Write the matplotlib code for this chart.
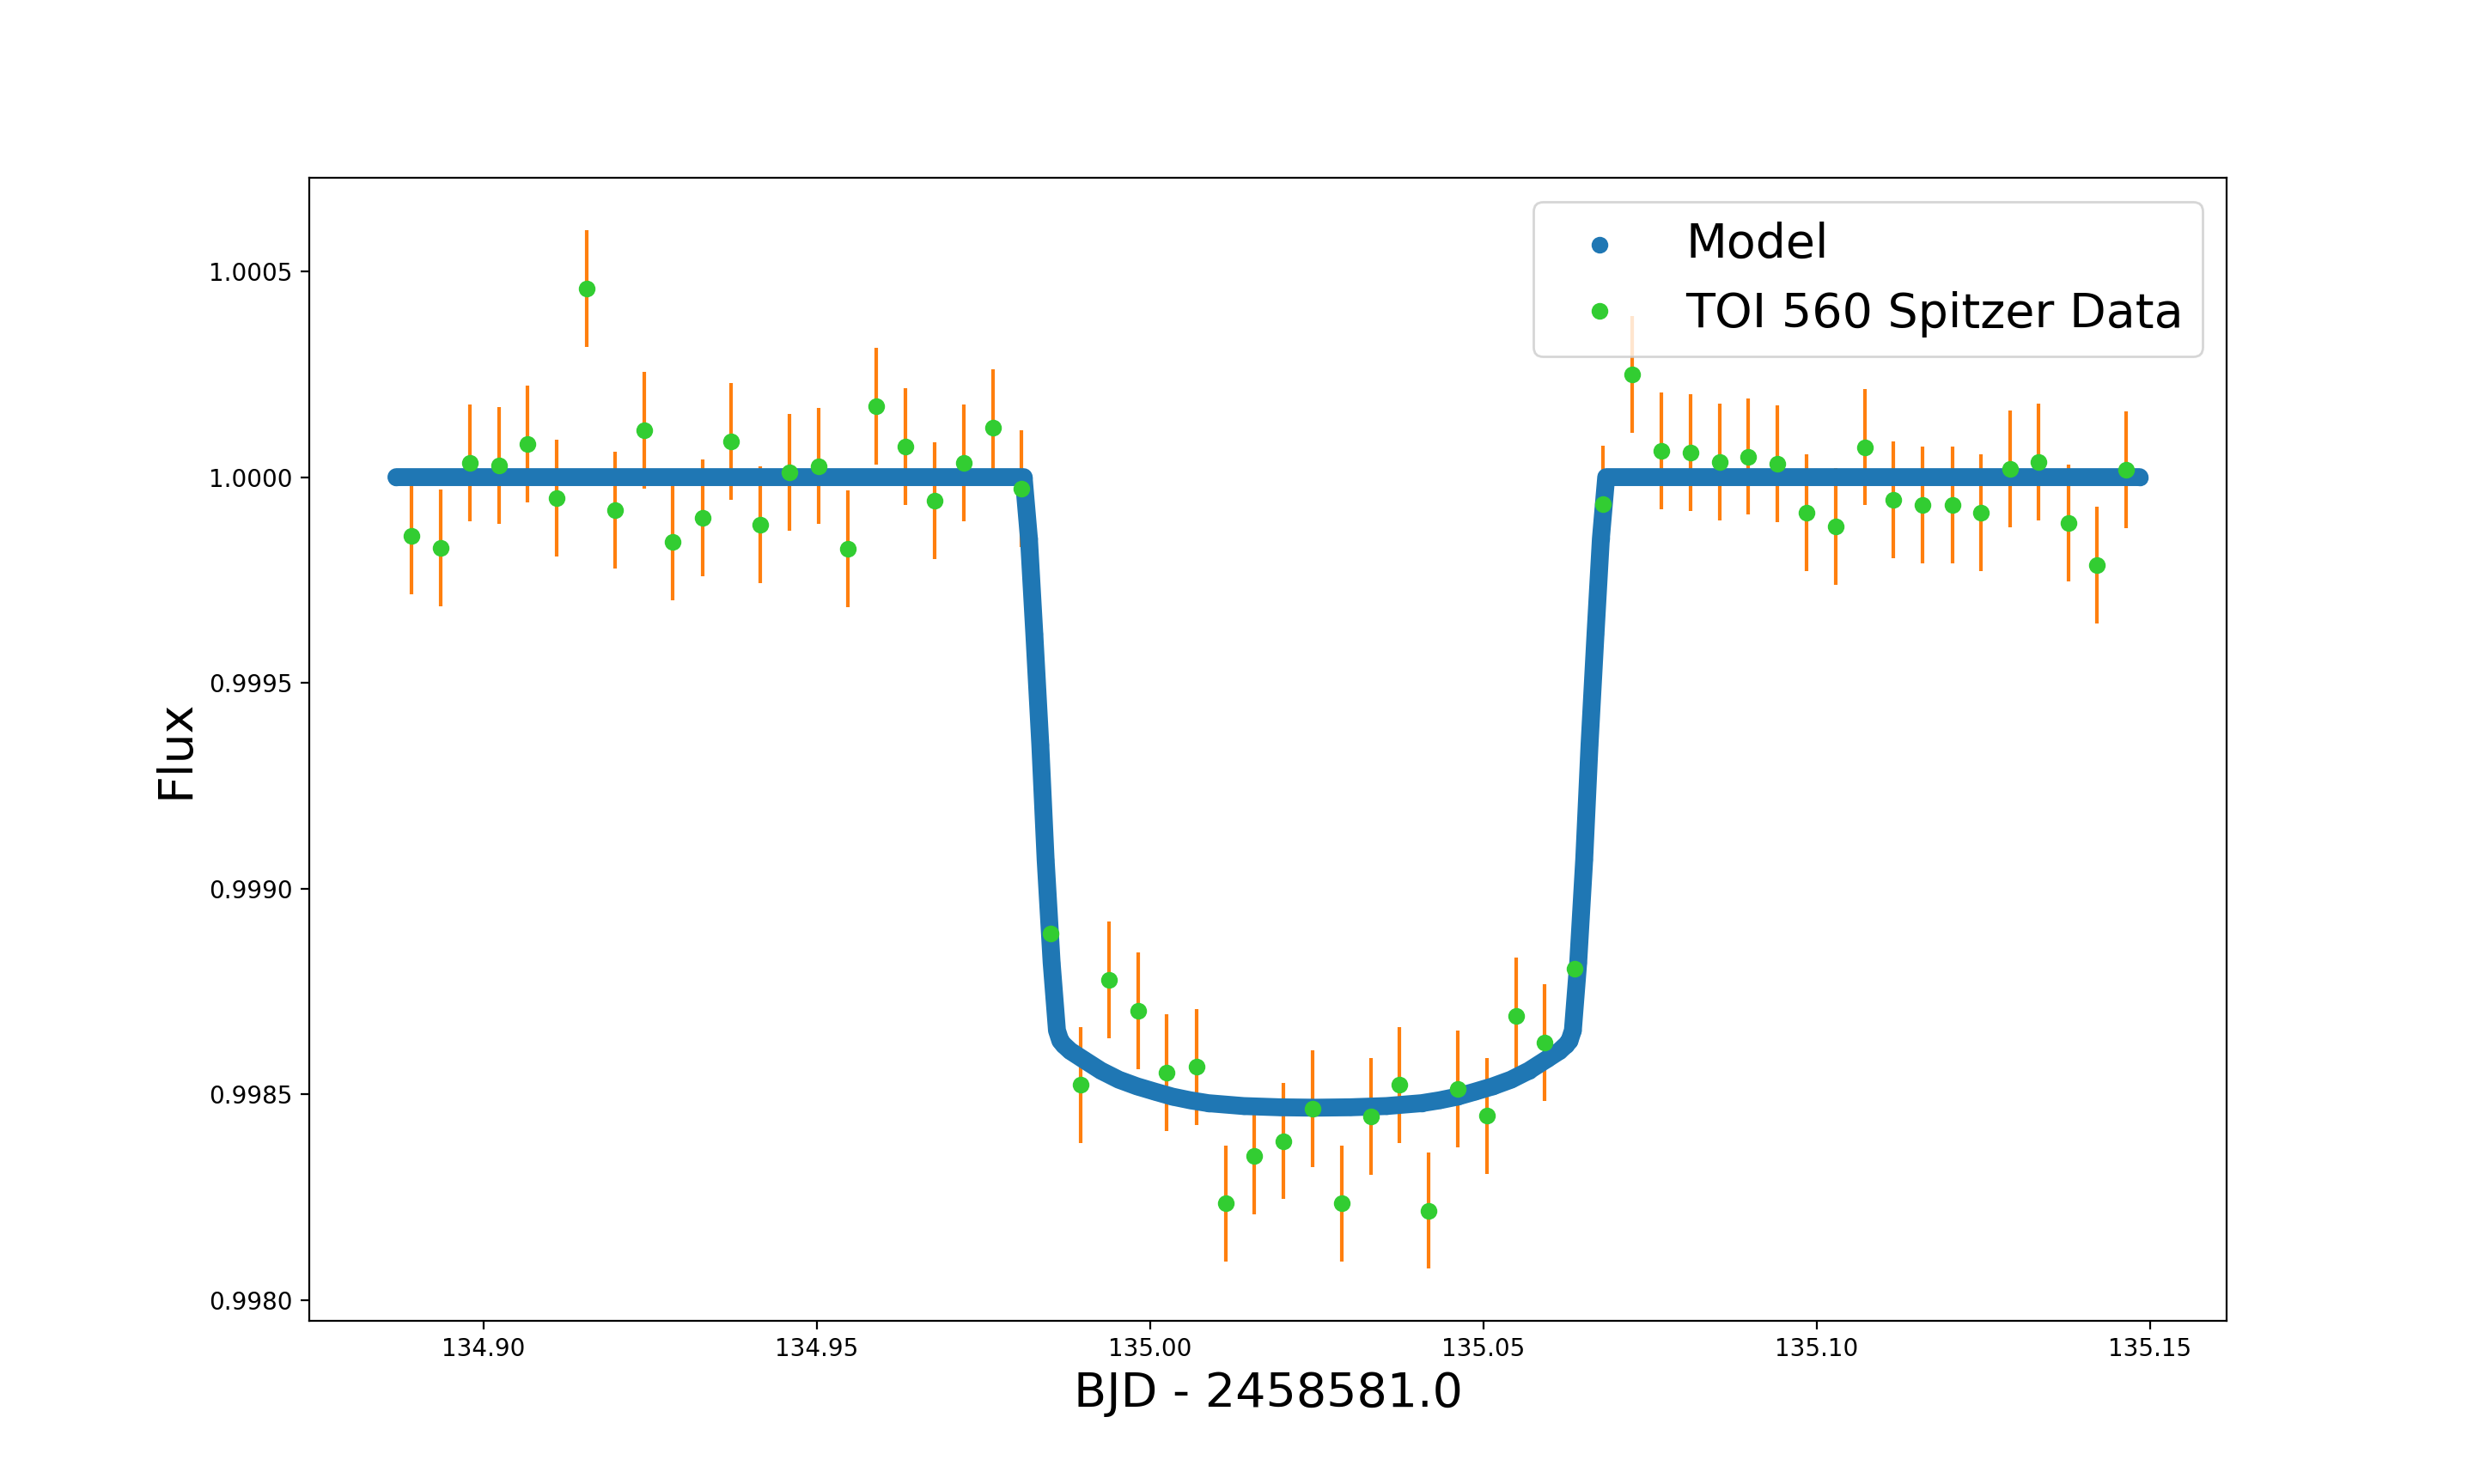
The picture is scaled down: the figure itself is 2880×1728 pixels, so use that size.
import matplotlib
matplotlib.use("Agg")
import matplotlib.pyplot as plt

# ---- data ----
data_time = [
    134.8892, 134.8936, 134.8979, 134.9023, 134.9066, 134.9110, 134.9154, 134.9197,
    134.9241, 134.9284, 134.9328, 134.9371, 134.9415, 134.9459, 134.9502, 134.9546,
    134.9589, 134.9633, 134.9677, 134.9720, 134.9764, 134.9807, 134.9851, 134.9895,
    134.9938, 134.9982, 135.0025, 135.0069, 135.0113, 135.0156, 135.0200, 135.0243,
    135.0287, 135.0331, 135.0374, 135.0418, 135.0461, 135.0505, 135.0549, 135.0592,
    135.0636, 135.0679, 135.0723, 135.0767, 135.0810, 135.0854, 135.0897, 135.0941,
    135.0985, 135.1028, 135.1072, 135.1115, 135.1159, 135.1203, 135.1246, 135.1290,
    135.1333, 135.1377, 135.1420, 135.1464,
]
data_flux = [
    0.999857, 0.999828, 1.000035, 1.000029, 1.000081, 0.999949, 1.000459, 0.999920,
    1.000114, 0.999843, 0.999901, 1.000087, 0.999884, 1.000012, 1.000027, 0.999826,
    1.000173, 1.000075, 0.999943, 1.000035, 1.000121, 0.999972, 0.998890, 0.998522,
    0.998777, 0.998702, 0.998552, 0.998566, 0.998234, 0.998350, 0.998386, 0.998464,
    0.998234, 0.998445, 0.998522, 0.998217, 0.998512, 0.998447, 0.998691, 0.998625,
    0.998804, 0.999935, 1.000250, 1.000064, 1.000060, 1.000037, 1.000050, 1.000033,
    0.999914, 0.999880, 1.000073, 0.999945, 0.999932, 0.999932, 0.999914, 1.000020,
    1.000037, 0.999889, 0.999786, 1.000018,
]
data_err = 0.0001417

model_time = [
    134.8869, 134.9810, 134.9818, 134.9826, 134.9835, 134.9843, 134.9852, 134.9860,
    134.9865, 134.9870, 134.9880, 134.9899, 134.9926, 134.9953, 134.9980, 135.0007,
    135.0033, 135.0060, 135.0087, 135.0140, 135.0194, 135.0247, 135.0300, 135.0354,
    135.0407, 135.0434, 135.0461, 135.0487, 135.0514, 135.0541, 135.0568, 135.0595,
    135.0614, 135.0624, 135.0629, 135.0634, 135.0642, 135.0651, 135.0659, 135.0668,
    135.0676, 135.0684, 135.1484,
]
model_flux = [
    1.000000, 1.000000, 0.999850, 0.999620, 0.999350, 0.999070, 0.998820, 0.998655,
    0.998630, 0.998620, 0.998605, 0.998585, 0.998557, 0.998535, 0.998519, 0.998506,
    0.998494, 0.998485, 0.998478, 0.998471, 0.998468, 0.998467, 0.998468, 0.998471,
    0.998478, 0.998485, 0.998494, 0.998506, 0.998519, 0.998535, 0.998557, 0.998585,
    0.998605, 0.998620, 0.998630, 0.998655, 0.998820, 0.999070, 0.999350, 0.999620,
    0.999850, 1.000000, 1.000000,
]

x_label = "BJD - 2458581.0"
y_label = "Flux"
model_label = "Model"
data_label = "TOI 560 Spitzer Data"

# ---- figure ----
fig, ax = plt.subplots(figsize=(14.4, 8.64), dpi=200)

ax.errorbar(data_time, data_flux, yerr=data_err, fmt="none", ecolor="C1",
            elinewidth=1.5, zorder=2)
ax.plot(model_time, model_flux, color="C0", lw=7.5, solid_capstyle="round",
        solid_joinstyle="round", zorder=2)
ax.scatter(model_time, model_flux, s=36, color="C0", label=model_label, zorder=2)
ax.plot(data_time, data_flux, "o", color="limegreen", ms=6, label=data_label,
        zorder=2)

ax.set_xlabel(x_label, fontsize=20)
ax.set_ylabel(y_label, fontsize=20)
ax.ticklabel_format(useOffset=False)
ax.legend(loc="upper right", fontsize=20)

fig.savefig("out.png", dpi=200)
